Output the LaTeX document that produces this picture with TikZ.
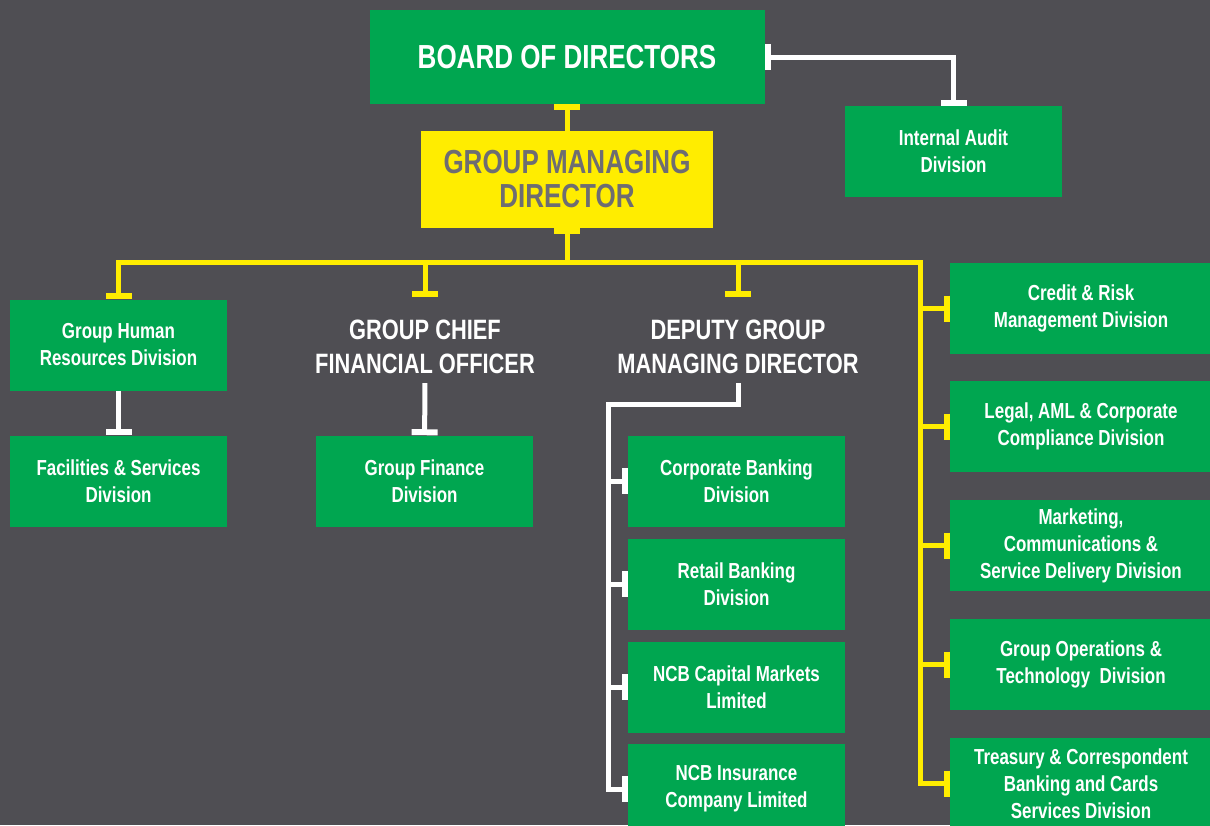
\documentclass[tikz,border=0pt]{standalone}
\usepackage{fontspec}
\setmainfont{Liberation Sans}[FakeStretch=0.78]
\usetikzlibrary{arrows.meta}

\definecolor{bggray}{HTML}{4F4E53}
\definecolor{ncbgreen}{HTML}{00A650}
\definecolor{ncbyellow}{HTML}{FFED00}
\definecolor{txtgray}{HTML}{6E6D72}

\tikzstyle{unit}=[fill=ncbgreen, text=white, align=center, inner sep=0pt,
  minimum width=162.75pt, minimum height=68.25pt,
  font=\bfseries\fontsize{16.3}{20.25}\selectfont]
\tikzstyle{side}=[unit, minimum width=196.5pt]
\tikzstyle{head}=[text=white, align=center, inner sep=6.75pt,
  font=\bfseries\fontsize{21}{25.5}\selectfont]
\tikzstyle{wline}=[draw=white, line width=3.75pt]
\tikzstyle{yline}=[draw=ncbyellow, line width=3.75pt]

\begin{document}
\begin{tikzpicture}[x=0.75pt, y=-0.75pt, >={Bar[width=19.5pt, line width=4.5pt]}]
    \fill[bggray] (0,0) rectangle (1210,825);
    \useasboundingbox (0,0) rectangle (1210,825);
    % top of the chart
    \node[unit, minimum width=296.25pt, minimum height=70.5pt,
      font=\bfseries\fontsize{25}{30}\selectfont] (board) at (567,57) {BOARD OF DIRECTORS};
    \node[unit, fill=ncbyellow, text=txtgray, minimum width=219pt, minimum height=72.75pt,
      font=\bfseries\fontsize{25}{25.5}\selectfont] (gmd) at (567,179.5) {GROUP MANAGING\\DIRECTOR};
    \node[unit] (audit) at (953.5,151.5) {Internal Audit\\Division};
    % left branches
    \node[unit] (hr) at (118.5,345) {Group Human\\Resources Division};
    \node[unit] (facilities) at (118.5,481) {Facilities \& Services\\Division};
    \node[head] (gcfo) at (425,347) {GROUP CHIEF\\FINANCIAL OFFICER};
    \node[unit] (finance) at (424.5,481) {Group Finance\\Division};
    \node[head] (dgmd) at (738,347) {DEPUTY GROUP\\MANAGING DIRECTOR};
    \node[unit] (corporate) at (736.5,481) {Corporate Banking\\Division};
    \node[unit] (retail) at (736.5,584) {Retail Banking\\Division};
    \node[unit] (capital) at (736.5,687) {NCB Capital Markets\\Limited};
    \node[unit] (insurance) at (736.5,789) {NCB Insurance\\Company Limited};
    % right column
    \node[side] (credit) at (1081,308.5) {Credit \& Risk\\Management Division};
    \node[side] (legal) at (1081,426.5) {Legal, AML \& Corporate\\Compliance Division};
    \node[side] (marketing) at (1081,545.5) {Marketing,\\Communications \&\\Service Delivery Division};
    \node[side] (operations) at (1081,664.5) {Group Operations \&\\Technology\ \ Division};
    \node[side] (treasury) at (1081,783.5) {Treasury \& Correspondent\\Banking and Cards\\Services Division};
    \coordinate (bus) at (567,262);
    \coordinate (rail) at (920,262);
    \coordinate (spine) at (608.5,404.5);
    % reporting lines
    \draw[yline, ->] (gmd) -- (board);
    \draw[wline, <->] (board.east) -| (audit);
    \draw[yline, <-] (gmd) -- (bus);
    \draw[yline, ->] (bus) -| (hr);
    \draw[yline, ->] (bus) -| ([yshift=10.5pt]gcfo.north);
    \draw[yline, ->] (bus) -| ([yshift=10.5pt]dgmd.north);
    \draw[yline, ->] (bus) -- (rail) |- (treasury);
    \foreach \n in {credit, legal, marketing, operations}
      \draw[yline, ->] (rail |- \n) -- (\n);
    \draw[wline, ->] (hr) -- (facilities);
    \draw[wline, ->] (gcfo) -- (finance);
    \draw[wline, ->] (dgmd) |- (spine) |- (insurance);
    \foreach \n in {corporate, retail, capital}
      \draw[wline, ->] (spine |- \n) -- (\n);
\end{tikzpicture}
\end{document}
